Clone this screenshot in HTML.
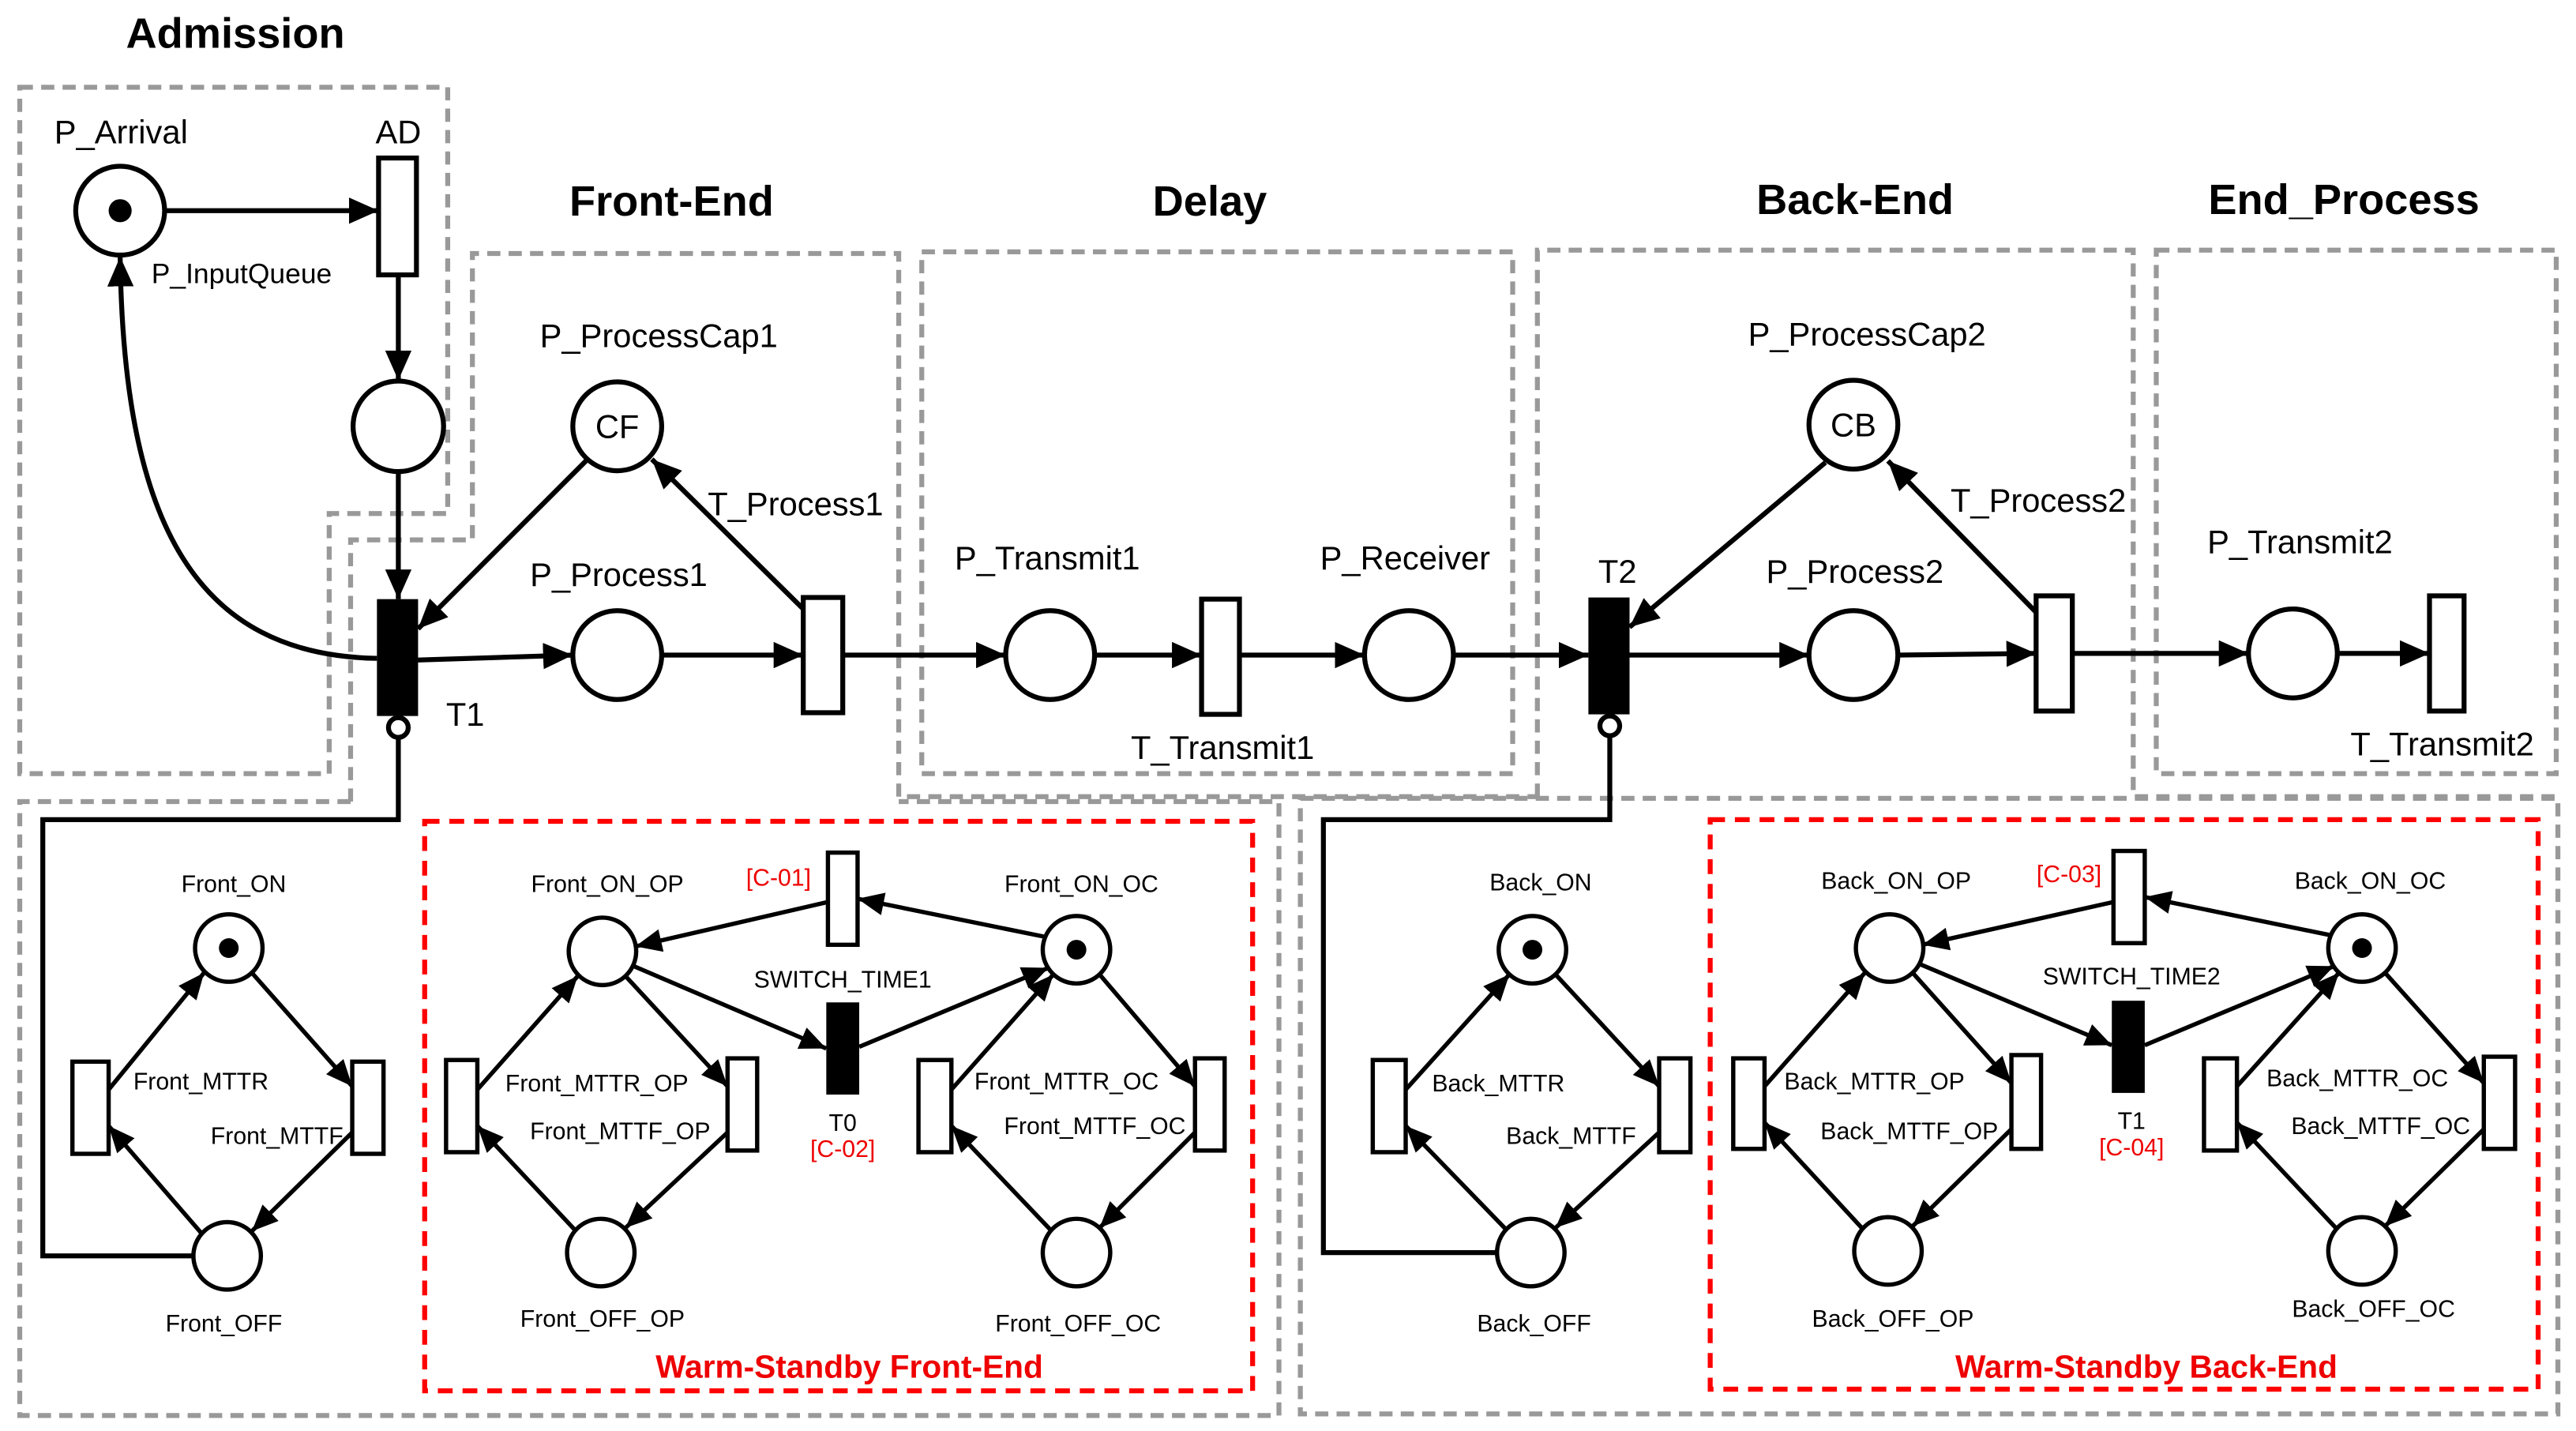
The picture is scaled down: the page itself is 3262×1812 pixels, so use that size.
<!DOCTYPE html>
<html><head><meta charset="utf-8"><style>
html,body{margin:0;padding:0;background:#fff;}
svg{display:block;}
text{font-family:"Liberation Sans",Arial,sans-serif;fill:#000;}
.u{font-size:20px;}
.s{font-size:14.5px;}
.t{font-size:26px;font-weight:bold;}
.r{fill:#e00;}
.g{fill:none;stroke:#999;stroke-width:3;stroke-dasharray:8 5;}
.rd{fill:none;stroke:#f00;stroke-width:3;stroke-dasharray:9 6;}
.a{stroke:#000;stroke-width:3;fill:none;marker-end:url(#ah);}
.b{stroke:#000;stroke-width:2.6;fill:none;marker-end:url(#ah2);}
.p{fill:#fff;stroke:#000;stroke-width:3;}
.q{fill:#fff;stroke:#000;stroke-width:2.6;}
</style></head><body>
<svg width="3262" height="1812" viewBox="0 0 1565 869.4" preserveAspectRatio="none" xmlns="http://www.w3.org/2000/svg">
<defs>
<marker id="ah" markerUnits="userSpaceOnUse" markerWidth="20" markerHeight="16" refX="18" refY="8" orient="auto"><path d="M0,0 L18,8 L0,16 Z" fill="#000"/></marker>
<marker id="ah2" markerUnits="userSpaceOnUse" markerWidth="18" markerHeight="14" refX="16" refY="7" orient="auto"><path d="M0,0 L16,7 L0,14 Z" fill="#000"/></marker>
</defs>

<path class="g" d="M12,53 H272 V312 H200 V470 H12 Z"/>
<path class="g" d="M213,487 V328 H287 V154 H546 V484 H934"/>
<rect class="g" x="560" y="153" width="359" height="317"/>
<path class="g" d="M934,484 V152 H1296 V484 H1553"/>
<rect class="g" x="1310" y="152" width="243" height="318"/>
<path class="g" d="M213,487 H12 V860 H777 V487 H546"/>
<rect class="g" x="790" y="485" width="764" height="374"/>
<rect class="rd" x="258" y="499" width="503" height="346"/>
<rect class="rd" x="1039" y="498" width="503" height="346"/>

<text class="t" x="143" y="29" text-anchor="middle">Admission</text>
<text class="t" x="408" y="131" text-anchor="middle">Front-End</text>
<text class="t" x="735" y="131" text-anchor="middle">Delay</text>
<text class="t" x="1127" y="130" text-anchor="middle">Back-End</text>
<text class="t" x="1424" y="130" text-anchor="middle">End_Process</text>

<line class="a" x1="101" y1="128" x2="230" y2="128"/>
<line class="a" x1="242" y1="167" x2="242" y2="231"/>
<line class="a" x1="242" y1="287" x2="242" y2="364"/>
<path class="a" d="M229,400 C120,398 75,320 73,156"/>
<line class="a" x1="254" y1="401" x2="348" y2="398"/>
<line class="a" x1="402" y1="398" x2="488" y2="398"/>
<line class="a" x1="357" y1="279" x2="254" y2="382"/>
<line class="a" x1="488" y1="370" x2="396" y2="279"/>
<line class="a" x1="512" y1="398" x2="611" y2="398"/>
<line class="a" x1="665" y1="398" x2="730" y2="398"/>
<line class="a" x1="753" y1="398" x2="829" y2="398"/>
<line class="a" x1="883" y1="398" x2="965" y2="398"/>
<line class="a" x1="990" y1="398" x2="1099" y2="398"/>
<line class="a" x1="1153" y1="398" x2="1237" y2="397"/>
<line class="a" x1="1259" y1="397" x2="1366" y2="397"/>
<line class="a" x1="1420" y1="397" x2="1476" y2="397"/>
<line class="a" x1="1109" y1="281" x2="990" y2="381"/>
<line class="a" x1="1237" y1="372" x2="1147" y2="280"/>

<polyline points="242,448 242,498 26,498 26,763 117,763" fill="none" stroke="#000" stroke-width="3"/>
<polyline points="978,448 978,498 804,498 804,761 909,761" fill="none" stroke="#000" stroke-width="3"/>

<circle class="p" cx="73" cy="128" r="27"/><circle cx="73" cy="128" r="7" fill="#000"/>
<rect class="p" x="230" y="96" width="23" height="71"/>
<circle class="p" cx="242" cy="259" r="27.5"/>
<rect x="229" y="364" width="25" height="71" fill="#000"/>
<circle class="p" cx="242" cy="442" r="6" stroke-width="2.5"/>
<circle class="p" cx="375" cy="259" r="27"/>
<circle class="p" cx="375" cy="398" r="27"/>
<rect class="p" x="488" y="363" width="24" height="70"/>
<circle class="p" cx="638" cy="398" r="27"/>
<rect class="p" x="730" y="364" width="23" height="70"/>
<circle class="p" cx="856" cy="398" r="27"/>
<rect x="965" y="363" width="25" height="71" fill="#000"/>
<circle class="p" cx="978" cy="441" r="6" stroke-width="2.5"/>
<circle class="p" cx="1126" cy="258" r="27"/>
<circle class="p" cx="1126" cy="398" r="27"/>
<rect class="p" x="1237" y="362" width="22" height="70"/>
<circle class="p" cx="1393" cy="397" r="27"/>
<rect class="p" x="1476" y="362" width="21" height="70"/>

<text class="u" x="33" y="87">P_Arrival</text>
<text class="u" x="242" y="87" text-anchor="middle">AD</text>
<text class="s" x="92" y="172" style="font-size:17px">P_InputQueue</text>
<text class="u" x="375" y="266" text-anchor="middle">CF</text>
<text class="u" x="1126" y="265" text-anchor="middle">CB</text>
<text class="u" x="328" y="211">P_ProcessCap1</text>
<text class="u" x="430" y="313">T_Process1</text>
<text class="u" x="322" y="356">P_Process1</text>
<text class="u" x="271" y="441">T1</text>
<text class="u" x="580" y="346">P_Transmit1</text>
<text class="u" x="802" y="346">P_Receiver</text>
<text class="u" x="687" y="461">T_Transmit1</text>
<text class="u" x="971" y="354">T2</text>
<text class="u" x="1062" y="210">P_ProcessCap2</text>
<text class="u" x="1185" y="311">T_Process2</text>
<text class="u" x="1073" y="354">P_Process2</text>
<text class="u" x="1341" y="336">P_Transmit2</text>
<text class="u" x="1428" y="459">T_Transmit2</text>

<line class="b" x1="153" y1="591" x2="214" y2="660"/>
<line class="b" x1="214" y1="688" x2="153" y2="748"/>
<line class="b" x1="123" y1="750" x2="66" y2="684"/>
<line class="b" x1="66" y1="662" x2="124" y2="591"/>
<line class="b" x1="380" y1="593" x2="442" y2="660"/>
<line class="b" x1="442" y1="688" x2="380" y2="746"/>
<line class="b" x1="350" y1="748" x2="290" y2="684"/>
<line class="b" x1="290" y1="662" x2="351" y2="593"/>
<line class="b" x1="668" y1="592" x2="726" y2="660"/>
<line class="b" x1="726" y1="688" x2="668" y2="746"/>
<line class="b" x1="639" y1="748" x2="578" y2="684"/>
<line class="b" x1="578" y1="662" x2="640" y2="592"/>
<line class="b" x1="945" y1="592" x2="1008" y2="660"/>
<line class="b" x1="1008" y1="688" x2="945" y2="746"/>
<line class="b" x1="916" y1="748" x2="854" y2="684"/>
<line class="b" x1="854" y1="662" x2="917" y2="592"/>
<line class="b" x1="1162" y1="591" x2="1222" y2="658"/>
<line class="b" x1="1222" y1="686" x2="1162" y2="745"/>
<line class="b" x1="1132" y1="747" x2="1072" y2="682"/>
<line class="b" x1="1072" y1="660" x2="1133" y2="591"/>
<line class="b" x1="1449" y1="591" x2="1509" y2="658"/>
<line class="b" x1="1509" y1="686" x2="1449" y2="745"/>
<line class="b" x1="1420" y1="747" x2="1359" y2="682"/>
<line class="b" x1="1359" y1="660" x2="1421" y2="591"/>
<line class="b" x1="634" y1="569" x2="521" y2="546"/>
<line class="b" x1="503" y1="548" x2="386" y2="575"/>
<line class="b" x1="385" y1="587" x2="502" y2="637"/>
<line class="b" x1="522" y1="636" x2="637" y2="588"/>
<line class="b" x1="1415" y1="568" x2="1303" y2="545"/>
<line class="b" x1="1284" y1="548" x2="1168" y2="574"/>
<line class="b" x1="1167" y1="586" x2="1283" y2="635"/>
<line class="b" x1="1303" y1="635" x2="1418" y2="587"/>

<circle class="q" cx="139" cy="576" r="20.5"/><circle cx="139" cy="576" r="6" fill="#000"/>
<circle class="q" cx="138" cy="763" r="20.5"/>
<rect class="q" x="44" y="645" width="22" height="56"/>
<rect class="q" x="214" y="645" width="19" height="56"/>
<circle class="q" cx="366" cy="578" r="20.5"/>
<circle class="q" cx="365" cy="761" r="20.5"/>
<rect class="q" x="271" y="644" width="19" height="56"/>
<rect class="q" x="442" y="643" width="18" height="56"/>
<rect class="q" x="503" y="518" width="18" height="56"/>
<rect x="502" y="609" width="20" height="56" fill="#000"/>
<circle class="q" cx="654" cy="577" r="20.5"/><circle cx="654" cy="577" r="6" fill="#000"/>
<circle class="q" cx="654" cy="761" r="20.5"/>
<rect class="q" x="558" y="644" width="20" height="56"/>
<rect class="q" x="726" y="643" width="18" height="56"/>

<circle class="q" cx="931" cy="577" r="20.5"/><circle cx="931" cy="577" r="6" fill="#000"/>
<circle class="q" cx="930" cy="761" r="20.5"/>
<rect class="q" x="834" y="644" width="20" height="56"/>
<rect class="q" x="1008" y="643" width="19" height="57"/>
<circle class="q" cx="1148" cy="576" r="20.5"/>
<circle class="q" cx="1147" cy="760" r="20.5"/>
<rect class="q" x="1053" y="643" width="19" height="55"/>
<rect class="q" x="1222" y="641" width="18" height="57"/>
<rect class="q" x="1284" y="517" width="19" height="56"/>
<rect x="1283" y="608" width="20" height="56" fill="#000"/>
<circle class="q" cx="1435" cy="576" r="20.5"/><circle cx="1435" cy="576" r="6" fill="#000"/>
<circle class="q" cx="1435" cy="760" r="20.5"/>
<rect class="q" x="1339" y="643" width="20" height="56"/>
<rect class="q" x="1509" y="642" width="19" height="56"/>

<text class="s" x="142" y="542" text-anchor="middle">Front_ON</text>
<text class="s" x="81" y="662">Front_MTTR</text>
<text class="s" x="128" y="695">Front_MTTF</text>
<text class="s" x="136" y="809" text-anchor="middle">Front_OFF</text>
<text class="s" x="369" y="542" text-anchor="middle">Front_ON_OP</text>
<text class="s r" x="473" y="538" text-anchor="middle">[C-01]</text>
<text class="s" x="657" y="542" text-anchor="middle">Front_ON_OC</text>
<text class="s" x="512" y="600" text-anchor="middle">SWITCH_TIME1</text>
<text class="s" x="307" y="663">Front_MTTR_OP</text>
<text class="s" x="322" y="692">Front_MTTF_OP</text>
<text class="s" x="512" y="687" text-anchor="middle">T0</text>
<text class="s r" x="512" y="703" text-anchor="middle">[C-02]</text>
<text class="s" x="592" y="662">Front_MTTR_OC</text>
<text class="s" x="610" y="689">Front_MTTF_OC</text>
<text class="s" x="366" y="806" text-anchor="middle">Front_OFF_OP</text>
<text class="s" x="655" y="809" text-anchor="middle">Front_OFF_OC</text>
<text class="r" x="516" y="837" text-anchor="middle" style="font-size:19.5px;font-weight:bold">Warm-Standby Front-End</text>

<text class="s" x="936" y="541" text-anchor="middle">Back_ON</text>
<text class="s" x="870" y="663">Back_MTTR</text>
<text class="s" x="915" y="695">Back_MTTF</text>
<text class="s" x="932" y="809" text-anchor="middle">Back_OFF</text>
<text class="s" x="1152" y="540" text-anchor="middle">Back_ON_OP</text>
<text class="s r" x="1257" y="536" text-anchor="middle">[C-03]</text>
<text class="s" x="1440" y="540" text-anchor="middle">Back_ON_OC</text>
<text class="s" x="1295" y="598" text-anchor="middle">SWITCH_TIME2</text>
<text class="s" x="1084" y="662">Back_MTTR_OP</text>
<text class="s" x="1106" y="692">Back_MTTF_OP</text>
<text class="s" x="1295" y="686" text-anchor="middle">T1</text>
<text class="s r" x="1295" y="702" text-anchor="middle">[C-04]</text>
<text class="s" x="1377" y="660">Back_MTTR_OC</text>
<text class="s" x="1392" y="689">Back_MTTF_OC</text>
<text class="s" x="1150" y="806" text-anchor="middle">Back_OFF_OP</text>
<text class="s" x="1442" y="800" text-anchor="middle">Back_OFF_OC</text>
<text class="r" x="1304" y="837" text-anchor="middle" style="font-size:19.5px;font-weight:bold">Warm-Standby Back-End</text>
</svg>
</body></html>
